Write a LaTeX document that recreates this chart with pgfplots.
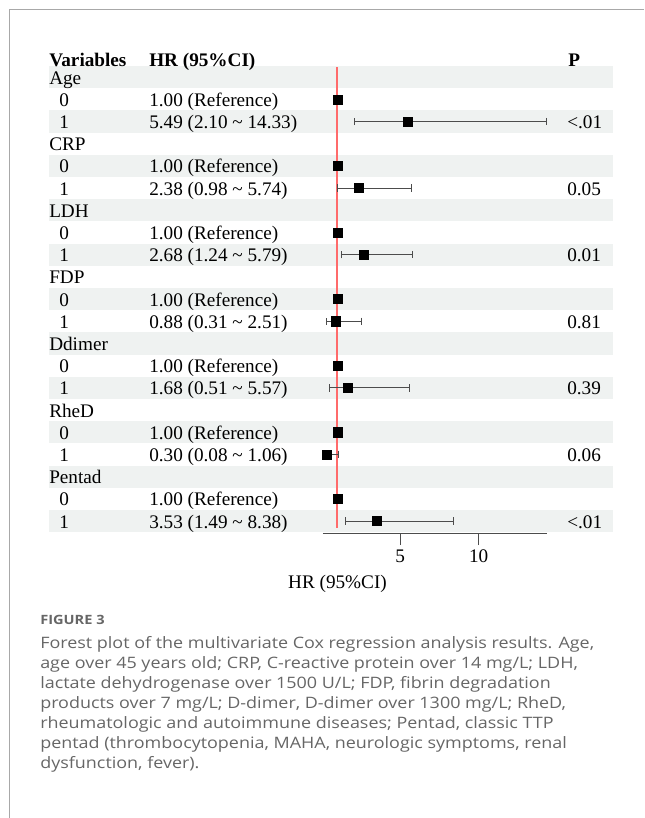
\documentclass[border=0pt]{standalone}
\usepackage{fontspec}
\setmainfont{Liberation Serif}
\newfontfamily\capfont[FakeStretch=1.14]{Open Sans}
\usepackage{pgfplots}
\pgfplotsset{compat=1.18}
\usepackage{pgfplotstable}

\definecolor{rowbg}{HTML}{EFF2F1}
\definecolor{framegray}{HTML}{A8A8A8}
\definecolor{capgray}{HTML}{666666}

\newcommand{\tfont}{\fontsize{14.4pt}{17pt}\selectfont}
\newcommand{\cfont}{\capfont\fontsize{11.8pt}{15pt}\selectfont}
% #1 row index, #2 label x, #3 label, #4 HR text, #5 P text
\newcommand{\rw}[5]{%
  \node[anchor=base west,font=\tfont,inner sep=0pt] at (#2,{84+22.2*#1}) {#3};
  \node[anchor=base west,font=\tfont,inner sep=0pt] at (149,{84+22.2*#1}) {#4};
  \node[anchor=base west,font=\tfont,inner sep=0pt] at (567,{84+22.2*#1}) {#5};}
\newcommand{\tl}{\textasciitilde}

% estimates with 95% CI (row = -index)
\pgfplotstableread{
row hr lo hi
-2  5.49 2.10 14.33
-5  2.38 0.98 5.74
-8  2.68 1.24 5.79
-11 0.88 0.31 2.51
-14 1.68 0.51 5.57
-17 0.30 0.08 1.06
-20 3.53 1.49 8.38
}\est
% reference categories
\pgfplotstableread{
row hr
-1  1.00
-4  1.00
-7  1.00
-10 1.00
-13 1.00
-16 1.00
-19 1.00
}\refs
% reference line
\pgfplotstableread{
x y
1 0.45
1 -20.3
}\refline

\begin{document}
\begin{tikzpicture}
\begin{scope}[x=0.75pt,y=-0.75pt]
  \path (0,0) rectangle (644,818);
  \draw[framegray,line width=1pt] (644,9.3) -- (9.3,9.3) -- (9.3,818);
  \foreach \i in {0,2,...,20}
    \fill[rowbg] (49,{77+22.2*\i-11.1}) rectangle (613,{77+22.2*\i+11.1});
  % header
  \node[anchor=base west,font=\tfont\bfseries,inner sep=0pt] at (49,66.5) {Variables};
  \node[anchor=base west,font=\tfont\bfseries,inner sep=0pt] at (149,66.5) {HR (95\%CI)};
  \node[anchor=base west,font=\tfont\bfseries,inner sep=0pt] at (568,66.5) {P};
  % rows
  \rw{0}{49}{Age}{}{}
  \rw{1}{59}{0}{1.00 (Reference)}{}
  \rw{2}{59}{1}{5.49 (2.10 \tl{} 14.33)}{<.01}
  \rw{3}{49}{CRP}{}{}
  \rw{4}{59}{0}{1.00 (Reference)}{}
  \rw{5}{59}{1}{2.38 (0.98 \tl{} 5.74)}{0.05}
  \rw{6}{49}{LDH}{}{}
  \rw{7}{59}{0}{1.00 (Reference)}{}
  \rw{8}{59}{1}{2.68 (1.24 \tl{} 5.79)}{0.01}
  \rw{9}{49}{FDP}{}{}
  \rw{10}{59}{0}{1.00 (Reference)}{}
  \rw{11}{59}{1}{0.88 (0.31 \tl{} 2.51)}{0.81}
  \rw{12}{49}{Ddimer}{}{}
  \rw{13}{59}{0}{1.00 (Reference)}{}
  \rw{14}{59}{1}{1.68 (0.51 \tl{} 5.57)}{0.39}
  \rw{15}{49}{RheD}{}{}
  \rw{16}{59}{0}{1.00 (Reference)}{}
  \rw{17}{59}{1}{0.30 (0.08 \tl{} 1.06)}{0.06}
  \rw{18}{49}{Pentad}{}{}
  \rw{19}{59}{0}{1.00 (Reference)}{}
  \rw{20}{59}{1}{3.53 (1.49 \tl{} 8.38)}{<.01}
  % x label
  \node[anchor=base,font=\tfont,inner sep=0pt] at (337.5,588.5) {HR (95\%CI)};
  % caption
  \node[anchor=base west,inner sep=0pt,text=capgray,font=\capfont\bfseries\fontsize{9.6pt}{11pt}\selectfont] at (40,624) {FIGURE 3};
  \foreach \t [count=\k from 0] in {%
    {Forest plot of the multivariate Cox regression analysis results. Age,},
    {age over 45 years old; CRP, C-reactive protein over 14 mg/L; LDH,},
    {lactate dehydrogenase over 1500 U/L; FDP, fibrin degradation},
    {products over 7 mg/L; D-dimer, D-dimer over 1300 mg/L; RheD,},
    {rheumatologic and autoimmune diseases; Pentad, classic TTP},
    {pentad (thrombocytopenia, MAHA, neurologic symptoms, renal},
    {dysfunction, fever).}}
    \node[anchor=base west,inner sep=0pt,text=capgray,font=\cfont] at (40,{648.3+20*\k}) {\t};
\end{scope}

\begin{axis}[
  at={(242.2pt,-399.75pt)}, anchor=south west,
  scale only axis, width=167.8pt, height=350.25pt,
  xmin=0.08, xmax=14.33, ymin=-20.54, ymax=0.5,
  axis x line=bottom, axis y line=none,
  x axis line style={-, draw=black!70, line width=0.75pt},
  xtick={5,10}, ytick=\empty,
  tick align=outside, major tick length=9pt,
  xtick style={draw=black!70, line width=0.75pt},
  xticklabel style={font=\tfont, text=black},
  /pgf/number format/assume math mode=true,
  clip=false,
]
  \addplot[draw=red!58, line width=1.5pt, no markers] table[x=x,y=y] {\refline};
  \addplot[only marks, mark=square*, mark size=3.4pt, black,
    error bars/.cd, x dir=both, x explicit, error mark=|,
    error bar style={draw=black!70, line width=0.75pt},
    error mark options={draw=black!70, mark size=2.8pt, line width=0.75pt}]
    table[x=hr, y=row,
      x error plus expr=\thisrow{hi}-\thisrow{hr},
      x error minus expr=\thisrow{hr}-\thisrow{lo}] {\est};
  \addplot[only marks, mark=square*, mark size=3.4pt, black]
    table[x=hr, y=row] {\refs};
\end{axis}
\pgfresetboundingbox
\path[use as bounding box] (0,0) rectangle (483pt,-613.5pt);
\end{tikzpicture}
\end{document}
